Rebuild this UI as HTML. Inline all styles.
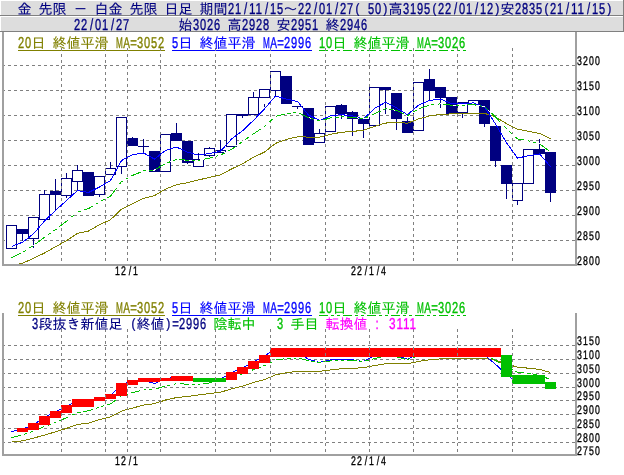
<!DOCTYPE html>
<html lang="ja"><head><meta charset="utf-8"><title>金 先限 - 白金 先限 日足</title>
<style>html,body{margin:0;padding:0;background:#fff;overflow:hidden}svg{display:block}text{white-space:pre}</style>
</head><body>
<svg width="624" height="475" viewBox="0 0 624 475">
<rect x="0" y="0" width="624" height="16" fill="#dddddd"/>
<rect x="0" y="0" width="624" height="1" fill="#ffffff"/>
<rect x="0" y="0" width="1" height="16" fill="#ffffff"/>
<rect x="0" y="15" width="624" height="1" fill="#808080"/>
<rect x="623" y="0" width="1" height="16" fill="#808080"/>
<rect x="0" y="16" width="624" height="16" fill="#dddddd"/>
<rect x="0" y="16" width="624" height="1" fill="#ffffff"/>
<rect x="0" y="16" width="1" height="16" fill="#ffffff"/>
<rect x="0" y="31" width="624" height="1" fill="#808080"/>
<rect x="623" y="16" width="1" height="16" fill="#808080"/>
<g shape-rendering="crispEdges">
<path d="M2 65.5H575" stroke="#808080" stroke-width="1" stroke-dasharray="3 3" fill="none"/>
<path d="M2 90.5H575" stroke="#808080" stroke-width="1" stroke-dasharray="3 3" fill="none"/>
<path d="M2 115.5H575" stroke="#808080" stroke-width="1" stroke-dasharray="3 3" fill="none"/>
<path d="M2 140.5H575" stroke="#808080" stroke-width="1" stroke-dasharray="3 3" fill="none"/>
<path d="M2 165.5H575" stroke="#808080" stroke-width="1" stroke-dasharray="3 3" fill="none"/>
<path d="M2 190.5H575" stroke="#808080" stroke-width="1" stroke-dasharray="3 3" fill="none"/>
<path d="M2 215.5H575" stroke="#808080" stroke-width="1" stroke-dasharray="3 3" fill="none"/>
<path d="M2 240.5H575" stroke="#808080" stroke-width="1" stroke-dasharray="3 3" fill="none"/>
<path d="M2 345.5H575" stroke="#808080" stroke-width="1" stroke-dasharray="3 3" fill="none"/>
<path d="M2 359.5H575" stroke="#808080" stroke-width="1" stroke-dasharray="3 3" fill="none"/>
<path d="M2 373.5H575" stroke="#808080" stroke-width="1" stroke-dasharray="3 3" fill="none"/>
<path d="M2 387.5H575" stroke="#808080" stroke-width="1" stroke-dasharray="3 3" fill="none"/>
<path d="M2 400.5H575" stroke="#808080" stroke-width="1" stroke-dasharray="3 3" fill="none"/>
<path d="M2 414.5H575" stroke="#808080" stroke-width="1" stroke-dasharray="3 3" fill="none"/>
<path d="M2 428.5H575" stroke="#808080" stroke-width="1" stroke-dasharray="3 3" fill="none"/>
<path d="M2 442.5H575" stroke="#808080" stroke-width="1" stroke-dasharray="3 3" fill="none"/>
</g>
<g shape-rendering="crispEdges">
<rect x="6.5" y="225.5" width="10" height="23" fill="#fff" stroke="#000080" stroke-width="1"/>
<rect x="22" y="234" width="1" height="7" fill="#000080"/>
<rect x="17" y="229" width="11" height="5" fill="#000080"/>
<rect x="33" y="239" width="1" height="9" fill="#000080"/>
<rect x="28.5" y="217.5" width="10" height="21" fill="#fff" stroke="#000080" stroke-width="1"/>
<rect x="44" y="190" width="1" height="4" fill="#000080"/>
<rect x="39.5" y="194.5" width="10" height="25" fill="#fff" stroke="#000080" stroke-width="1"/>
<rect x="55" y="179" width="1" height="12" fill="#000080"/>
<rect x="55" y="195" width="1" height="16" fill="#000080"/>
<rect x="50" y="191" width="11" height="4" fill="#000080"/>
<rect x="66" y="173" width="1" height="5" fill="#000080"/>
<rect x="66" y="196" width="1" height="2" fill="#000080"/>
<rect x="61.5" y="178.5" width="10" height="17" fill="#fff" stroke="#000080" stroke-width="1"/>
<rect x="77" y="165" width="1" height="5" fill="#000080"/>
<rect x="77" y="182" width="1" height="9" fill="#000080"/>
<rect x="72.5" y="170.5" width="10" height="11" fill="#fff" stroke="#000080" stroke-width="1"/>
<rect x="83" y="172" width="11" height="24" fill="#000080"/>
<rect x="99" y="195" width="1" height="2" fill="#000080"/>
<rect x="94.5" y="176.5" width="10" height="18" fill="#fff" stroke="#000080" stroke-width="1"/>
<rect x="110" y="162" width="1" height="6" fill="#000080"/>
<rect x="105.5" y="168.5" width="10" height="6" fill="#fff" stroke="#000080" stroke-width="1"/>
<rect x="121" y="167" width="1" height="7" fill="#000080"/>
<rect x="116.5" y="117.5" width="10" height="49" fill="#fff" stroke="#000080" stroke-width="1"/>
<rect x="132" y="137" width="1" height="1" fill="#000080"/>
<rect x="127" y="138" width="11" height="8" fill="#000080"/>
<rect x="143" y="139" width="1" height="7" fill="#000080"/>
<rect x="143" y="147" width="1" height="6" fill="#000080"/>
<rect x="138" y="146" width="11" height="1" fill="#000080"/>
<rect x="149" y="151" width="11" height="21" fill="#000080"/>
<rect x="160.5" y="134.5" width="10" height="37" fill="#fff" stroke="#000080" stroke-width="1"/>
<rect x="176" y="123" width="1" height="10" fill="#000080"/>
<rect x="171" y="133" width="11" height="8" fill="#000080"/>
<rect x="187" y="163" width="1" height="1" fill="#000080"/>
<rect x="182" y="141" width="11" height="22" fill="#000080"/>
<rect x="198" y="153" width="1" height="6" fill="#000080"/>
<rect x="193.5" y="159.5" width="10" height="7" fill="#fff" stroke="#000080" stroke-width="1"/>
<rect x="209" y="147" width="1" height="1" fill="#000080"/>
<rect x="209" y="156" width="1" height="1" fill="#000080"/>
<rect x="204.5" y="148.5" width="10" height="7" fill="#fff" stroke="#000080" stroke-width="1"/>
<rect x="220" y="140" width="1" height="10" fill="#000080"/>
<rect x="215.5" y="150.5" width="10" height="2" fill="#fff" stroke="#000080" stroke-width="1"/>
<rect x="226.5" y="114.5" width="10" height="32" fill="#fff" stroke="#000080" stroke-width="1"/>
<rect x="242" y="116" width="1" height="2" fill="#000080"/>
<rect x="237" y="114" width="11" height="2" fill="#000080"/>
<rect x="253" y="92" width="1" height="5" fill="#000080"/>
<rect x="248.5" y="97.5" width="10" height="17" fill="#fff" stroke="#000080" stroke-width="1"/>
<rect x="259.5" y="89.5" width="10" height="8" fill="#fff" stroke="#000080" stroke-width="1"/>
<rect x="275" y="91" width="1" height="6" fill="#000080"/>
<rect x="270.5" y="71.5" width="10" height="19" fill="#fff" stroke="#000080" stroke-width="1"/>
<rect x="281" y="76" width="11" height="28" fill="#000080"/>
<rect x="297" y="107" width="1" height="2" fill="#000080"/>
<rect x="292" y="106" width="11" height="1" fill="#000080"/>
<rect x="303" y="108" width="11" height="37" fill="#000080"/>
<rect x="319" y="129" width="1" height="4" fill="#000080"/>
<rect x="314.5" y="133.5" width="10" height="9" fill="#fff" stroke="#000080" stroke-width="1"/>
<rect x="325.5" y="106.5" width="10" height="25" fill="#fff" stroke="#000080" stroke-width="1"/>
<rect x="341" y="104" width="1" height="1" fill="#000080"/>
<rect x="341" y="114" width="1" height="5" fill="#000080"/>
<rect x="336" y="105" width="11" height="9" fill="#000080"/>
<rect x="352" y="111" width="1" height="1" fill="#000080"/>
<rect x="352" y="119" width="1" height="17" fill="#000080"/>
<rect x="347" y="112" width="11" height="7" fill="#000080"/>
<rect x="363" y="124" width="1" height="14" fill="#000080"/>
<rect x="358" y="119" width="11" height="5" fill="#000080"/>
<rect x="369.5" y="87.5" width="10" height="38" fill="#fff" stroke="#000080" stroke-width="1"/>
<rect x="385" y="90" width="1" height="24" fill="#000080"/>
<rect x="380" y="87" width="11" height="3" fill="#000080"/>
<rect x="396" y="119" width="1" height="11" fill="#000080"/>
<rect x="391" y="93" width="11" height="26" fill="#000080"/>
<rect x="407" y="117" width="1" height="4" fill="#000080"/>
<rect x="402" y="121" width="11" height="12" fill="#000080"/>
<rect x="413.5" y="82.5" width="10" height="48" fill="#fff" stroke="#000080" stroke-width="1"/>
<rect x="429" y="69" width="1" height="10" fill="#000080"/>
<rect x="429" y="91" width="1" height="9" fill="#000080"/>
<rect x="424" y="79" width="11" height="12" fill="#000080"/>
<rect x="440" y="98" width="1" height="10" fill="#000080"/>
<rect x="435" y="87" width="11" height="11" fill="#000080"/>
<rect x="446" y="97" width="11" height="17" fill="#000080"/>
<rect x="462" y="113" width="1" height="5" fill="#000080"/>
<rect x="457.5" y="102.5" width="10" height="10" fill="#fff" stroke="#000080" stroke-width="1"/>
<rect x="468.5" y="100.5" width="10" height="4" fill="#fff" stroke="#000080" stroke-width="1"/>
<rect x="484" y="124" width="1" height="3" fill="#000080"/>
<rect x="479" y="100" width="11" height="24" fill="#000080"/>
<rect x="495" y="161" width="1" height="6" fill="#000080"/>
<rect x="490" y="126" width="11" height="35" fill="#000080"/>
<rect x="506" y="184" width="1" height="15" fill="#000080"/>
<rect x="501" y="165" width="11" height="19" fill="#000080"/>
<rect x="517" y="201" width="1" height="4" fill="#000080"/>
<rect x="512.5" y="183.5" width="10" height="17" fill="#fff" stroke="#000080" stroke-width="1"/>
<rect x="523.5" y="149.5" width="10" height="34" fill="#fff" stroke="#000080" stroke-width="1"/>
<rect x="539" y="139" width="1" height="10" fill="#000080"/>
<rect x="534" y="149" width="11" height="5" fill="#000080"/>
<rect x="550" y="193" width="1" height="9" fill="#000080"/>
<rect x="545" y="152" width="11" height="41" fill="#000080"/>
<rect x="264" y="104" width="1" height="3" fill="#000080"/>
<path d="M61.5 48V264" stroke="#808080" stroke-width="1" stroke-dasharray="3 3" stroke-dashoffset="0" fill="none"/>
<path d="M105.5 48V264" stroke="#808080" stroke-width="1" stroke-dasharray="3 3" stroke-dashoffset="0" fill="none"/>
<path d="M127.5 48V264" stroke="#808080" stroke-width="1" stroke-dasharray="3 3" stroke-dashoffset="0" fill="none"/>
<path d="M160.5 48V264" stroke="#808080" stroke-width="1" stroke-dasharray="3 3" stroke-dashoffset="0" fill="none"/>
<path d="M215.5 48V264" stroke="#808080" stroke-width="1" stroke-dasharray="3 3" stroke-dashoffset="0" fill="none"/>
<path d="M270.5 48V264" stroke="#808080" stroke-width="1" stroke-dasharray="3 3" stroke-dashoffset="0" fill="none"/>
<path d="M325.5 48V264" stroke="#808080" stroke-width="1" stroke-dasharray="3 3" stroke-dashoffset="0" fill="none"/>
<path d="M369.5 48V264" stroke="#808080" stroke-width="1" stroke-dasharray="3 3" stroke-dashoffset="0" fill="none"/>
<path d="M413.5 48V264" stroke="#808080" stroke-width="1" stroke-dasharray="3 3" stroke-dashoffset="0" fill="none"/>
<path d="M457.5 48V264" stroke="#808080" stroke-width="1" stroke-dasharray="3 3" stroke-dashoffset="0" fill="none"/>
<path d="M512.5 48V264" stroke="#808080" stroke-width="1" stroke-dasharray="3 3" stroke-dashoffset="0" fill="none"/>
</g>
<defs><clipPath id="fc"><rect x="17" y="229" width="11" height="5"/><rect x="50" y="191" width="11" height="4"/><rect x="83" y="172" width="11" height="24"/><rect x="127" y="138" width="11" height="8"/><rect x="149" y="151" width="11" height="21"/><rect x="171" y="133" width="11" height="8"/><rect x="182" y="141" width="11" height="22"/><rect x="237" y="114" width="11" height="2"/><rect x="281" y="76" width="11" height="28"/><rect x="303" y="108" width="11" height="37"/><rect x="336" y="105" width="11" height="9"/><rect x="347" y="112" width="11" height="7"/><rect x="358" y="119" width="11" height="5"/><rect x="380" y="87" width="11" height="3"/><rect x="391" y="93" width="11" height="26"/><rect x="402" y="121" width="11" height="12"/><rect x="424" y="79" width="11" height="12"/><rect x="435" y="87" width="11" height="11"/><rect x="446" y="97" width="11" height="17"/><rect x="479" y="100" width="11" height="24"/><rect x="490" y="126" width="11" height="35"/><rect x="501" y="165" width="11" height="19"/><rect x="534" y="149" width="11" height="5"/><rect x="545" y="152" width="11" height="41"/></clipPath><clipPath id="tc"><rect x="4" y="52" width="571" height="214"/></clipPath></defs>
<g clip-path="url(#tc)" shape-rendering="crispEdges">
<path d="M11.5 265.45 L22.5 263.35 L33.5 258.25 L44.5 253.05 L55.5 246.75 L66.5 240.65 L77.5 233.35 L88.5 231.05 L99.5 224.65 L110.5 219.75 L121.5 209.15 L132.5 203.75 L143.5 198.35 L154.5 195.65 L165.5 189.05 L176.5 184.65 L187.5 182.65 L198.5 179.95 L209.5 177.35 L220.5 174.85 L231.5 168.95 L242.5 163.95 L253.5 157.15 L264.5 152.15 L275.5 143.35 L286.5 139.35 L297.5 136.85 L308.5 137.05 L319.5 137.05 L330.5 134.35 L341.5 132.25 L352.5 131.45 L363.5 130.25 L374.5 126.35 L385.5 123.05 L396.5 122.55 L407.5 123.15 L418.5 118.95 L429.5 115.95 L440.5 114.25 L451.5 113.95 L462.5 113.55 L473.5 113.05 L484.5 113.35 L495.5 116.95 L506.5 123.65 L517.5 129.25 L528.5 131.25 L539.5 133.45 L550.5 138.85" fill="none" stroke="#808000" stroke-width="1"/>
<path d="M11.5 246.45 L22.5 242.25 L33.5 233.85 L44.5 221.05 L55.5 210.35 L66.5 200.55 L77.5 190.55 L88.5 192.45 L99.5 187.05 L110.5 180.55 L121.5 160.55 L132.5 154.65 L143.5 152.95 L154.5 159.05 L165.5 150.45 L176.5 147.05 L187.5 152.15 L198.5 155.15 L209.5 153.45 L220.5 151.25 L231.5 139.05 L242.5 130.85 L253.5 120.35 L264.5 108.85 L275.5 96.05 L286.5 99.15 L297.5 101.45 L308.5 115.05 L319.5 120.55 L330.5 115.95 L341.5 114.65 L352.5 115.95 L363.5 119.15 L374.5 108.35 L385.5 102.35 L396.5 107.85 L407.5 114.75 L418.5 105.15 L429.5 100.45 L440.5 99.15 L451.5 103.45 L462.5 103.45 L473.5 102.95 L484.5 107.05 L495.5 124.05 L506.5 142.65 L517.5 158.15 L528.5 155.65 L539.5 153.95 L550.5 166.55" fill="none" stroke="#0000ff" stroke-width="1"/>
<path d="M11.5 257.55 L22.5 252.35 L33.5 245.65 L44.5 237.25 L55.5 229.65 L66.5 221.25 L77.5 212.05 L88.5 208.65 L99.5 202.05 L110.5 196.15 L121.5 181.55 L132.5 175.45 L143.5 170.95 L154.5 170.05 L165.5 163.55 L176.5 159.35 L187.5 160.25 L198.5 160.25 L209.5 158.05 L220.5 155.05 L231.5 149.35 L242.5 141.65 L253.5 133.85 L264.5 126.55 L275.5 116.45 L286.5 113.65 L297.5 112.55 L308.5 117.55 L319.5 120.85 L330.5 117.95 L341.5 116.85 L352.5 117.15 L363.5 118.85 L374.5 113.75 L385.5 108.65 L396.5 110.45 L407.5 115.65 L418.5 108.85 L429.5 105.15 L440.5 103.85 L451.5 105.15 L462.5 105.15 L473.5 104.65 L484.5 106.55 L495.5 116.95 L506.5 128.75 L517.5 138.85 L528.5 140.85 L539.5 143.85 L550.5 152.05" fill="none" stroke="#ffffff" stroke-width="1"/>
<path d="M11.5 257.55 L12.5 257.08 L13.5 256.60 L14.5 256.13 L15.5 255.66 L16.5 255.19 L17.5 254.71 L18.5 254.24 L19.5 253.77 L20.5 253.30M23.5 251.74 L24.5 251.13 L25.5 250.52 L26.5 249.91M29.5 248.09 L30.5 247.48 L31.5 246.87 L32.5 246.26M35.5 244.12 L36.5 243.36 L37.5 242.60 L38.5 241.83 L39.5 241.07 L40.5 240.30 L41.5 239.54 L42.5 238.78 L43.5 238.01 L44.5 237.25M47.5 235.18 L48.5 234.49 L49.5 233.80 L50.5 233.10M53.5 231.03 L54.5 230.34 L55.5 229.65 L56.5 228.89M59.5 226.60 L60.5 225.83 L61.5 225.07 L62.5 224.30 L63.5 223.54 L64.5 222.78 L65.5 222.01 L66.5 221.25 L67.5 220.41 L68.5 219.58M71.5 217.07 L72.5 216.23 L73.5 215.40 L74.5 214.56M77.5 212.05 L78.5 211.74 L79.5 211.43 L80.5 211.12M83.5 210.20 L84.5 209.89 L85.5 209.58 L86.5 209.27 L87.5 208.96 L88.5 208.65 L89.5 208.05 L90.5 207.45 L91.5 206.85 L92.5 206.25M95.5 204.45 L96.5 203.85 L97.5 203.25 L98.5 202.65M101.5 200.98 L102.5 200.44 L103.5 199.90 L104.5 199.37M107.5 197.76 L108.5 197.22 L109.5 196.69 L110.5 196.15 L111.5 194.82 L112.5 193.50 L113.5 192.17 L114.5 190.84 L115.5 189.51 L116.5 188.19M119.5 184.20 L120.5 182.88 L121.5 181.55 L122.5 181.00M125.5 179.33 L126.5 178.78 L127.5 178.22 L128.5 177.67M131.5 176.00 L132.5 175.45 L133.5 175.04 L134.5 174.63 L135.5 174.22 L136.5 173.81 L137.5 173.40 L138.5 173.00 L139.5 172.59 L140.5 172.18M143.5 170.95 L144.5 170.87 L145.5 170.79 L146.5 170.70M149.5 170.46 L150.5 170.38 L151.5 170.30 L152.5 170.21M155.5 169.46 L156.5 168.87 L157.5 168.28 L158.5 167.69 L159.5 167.10 L160.5 166.50 L161.5 165.91 L162.5 165.32 L163.5 164.73 L164.5 164.14M167.5 162.79 L168.5 162.40 L169.5 162.02 L170.5 161.64M173.5 160.50 L174.5 160.11 L175.5 159.73 L176.5 159.35M179.5 159.60 L180.5 159.68 L181.5 159.76 L182.5 159.84 L183.5 159.92 L184.5 160.00 L185.5 160.09 L186.5 160.17 L187.5 160.25 L188.5 160.25M191.5 160.25 L192.5 160.25 L193.5 160.25 L194.5 160.25M197.5 160.25 L198.5 160.25 L199.5 160.05 L200.5 159.85M203.5 159.25 L204.5 159.05 L205.5 158.85 L206.5 158.65 L207.5 158.45 L208.5 158.25 L209.5 158.05 L210.5 157.78 L211.5 157.50 L212.5 157.23M215.5 156.41 L216.5 156.14 L217.5 155.87 L218.5 155.60M221.5 154.53 L222.5 154.01 L223.5 153.50 L224.5 152.98M227.5 151.42 L228.5 150.90 L229.5 150.39 L230.5 149.87 L231.5 149.35 L232.5 148.65 L233.5 147.95 L234.5 147.25 L235.5 146.55 L236.5 145.85M239.5 143.75 L240.5 143.05 L241.5 142.35 L242.5 141.65M245.5 139.52 L246.5 138.81 L247.5 138.10 L248.5 137.40M251.5 135.27 L252.5 134.56 L253.5 133.85 L254.5 133.19 L255.5 132.52 L256.5 131.86 L257.5 131.20 L258.5 130.53 L259.5 129.87 L260.5 129.20M263.5 127.21 L264.5 126.55 L265.5 125.63 L266.5 124.71M269.5 121.96 L270.5 121.04 L271.5 120.12 L272.5 119.20M275.5 116.45 L276.5 116.20 L277.5 115.94 L278.5 115.69 L279.5 115.43 L280.5 115.18 L281.5 114.92 L282.5 114.67 L283.5 114.41 L284.5 114.16M287.5 113.55 L288.5 113.45 L289.5 113.35 L290.5 113.25M293.5 112.95 L294.5 112.85 L295.5 112.75 L296.5 112.65M299.5 113.46 L300.5 113.91 L301.5 114.37 L302.5 114.82 L303.5 115.28 L304.5 115.73 L305.5 116.19 L306.5 116.64 L307.5 117.10 L308.5 117.55M311.5 118.45 L312.5 118.75 L313.5 119.05 L314.5 119.35M317.5 120.25 L318.5 120.55 L319.5 120.85 L320.5 120.59M323.5 119.80 L324.5 119.53 L325.5 119.27 L326.5 119.00 L327.5 118.74 L328.5 118.48 L329.5 118.21 L330.5 117.95 L331.5 117.85 L332.5 117.75M335.5 117.45 L336.5 117.35 L337.5 117.25 L338.5 117.15M341.5 116.85 L342.5 116.88 L343.5 116.90 L344.5 116.93M347.5 117.01 L348.5 117.04 L349.5 117.07 L350.5 117.10 L351.5 117.12 L352.5 117.15 L353.5 117.30 L354.5 117.46 L355.5 117.61 L356.5 117.77M359.5 118.23 L360.5 118.39 L361.5 118.54 L362.5 118.70M365.5 117.92 L366.5 117.46 L367.5 117.00 L368.5 116.53M371.5 115.14 L372.5 114.68 L373.5 114.21 L374.5 113.75 L375.5 113.29 L376.5 112.82 L377.5 112.36 L378.5 111.90 L379.5 111.43 L380.5 110.97M383.5 109.58 L384.5 109.11 L385.5 108.65 L386.5 108.81M389.5 109.30 L390.5 109.47 L391.5 109.63 L392.5 109.80M395.5 110.29 L396.5 110.45 L397.5 110.92 L398.5 111.40 L399.5 111.87 L400.5 112.34 L401.5 112.81 L402.5 113.29 L403.5 113.76 L404.5 114.23M407.5 115.65 L408.5 115.03 L409.5 114.41 L410.5 113.80M413.5 111.94 L414.5 111.32 L415.5 110.70 L416.5 110.09M419.5 108.51 L420.5 108.18 L421.5 107.84 L422.5 107.50 L423.5 107.17 L424.5 106.83 L425.5 106.50 L426.5 106.16 L427.5 105.82 L428.5 105.49M431.5 104.91 L432.5 104.80 L433.5 104.68 L434.5 104.56M437.5 104.20 L438.5 104.09 L439.5 103.97 L440.5 103.85M443.5 104.20 L444.5 104.32 L445.5 104.44 L446.5 104.56 L447.5 104.68 L448.5 104.80 L449.5 104.91 L450.5 105.03 L451.5 105.15 L452.5 105.15M455.5 105.15 L456.5 105.15 L457.5 105.15 L458.5 105.15M461.5 105.15 L462.5 105.15 L463.5 105.10 L464.5 105.06M467.5 104.92 L468.5 104.88 L469.5 104.83 L470.5 104.79 L471.5 104.74 L472.5 104.70 L473.5 104.65 L474.5 104.82 L475.5 105.00 L476.5 105.17M479.5 105.69 L480.5 105.86 L481.5 106.03 L482.5 106.20M485.5 107.50 L486.5 108.44 L487.5 109.39 L488.5 110.33M491.5 113.17 L492.5 114.11 L493.5 115.06 L494.5 116.00 L495.5 116.95 L496.5 118.02 L497.5 119.10 L498.5 120.17 L499.5 121.24 L500.5 122.31M503.5 125.53 L504.5 126.60 L505.5 127.68 L506.5 128.75M509.5 131.50 L510.5 132.42 L511.5 133.34 L512.5 134.26M515.5 137.01 L516.5 137.93 L517.5 138.85 L518.5 139.03 L519.5 139.21 L520.5 139.40 L521.5 139.58 L522.5 139.76 L523.5 139.94 L524.5 140.12M527.5 140.67 L528.5 140.85 L529.5 141.12 L530.5 141.40M533.5 142.21 L534.5 142.49 L535.5 142.76 L536.5 143.03M539.5 143.85 L540.5 144.60 L541.5 145.34 L542.5 146.09 L543.5 146.83 L544.5 147.58 L545.5 148.32 L546.5 149.07 L547.5 149.81 L548.5 150.56" fill="none" stroke="#00c000" stroke-width="1"/>
</g>
<g shape-rendering="crispEdges">
<path d="M11.5 442.02 L22.5 440.87 L33.5 438.06 L44.5 435.20 L55.5 431.74 L66.5 428.38 L77.5 424.37 L88.5 423.10 L99.5 419.58 L110.5 416.89 L121.5 411.06 L132.5 408.08 L143.5 405.12 L154.5 403.63 L165.5 400.00 L176.5 397.58 L187.5 396.48 L198.5 395.00 L209.5 393.56 L220.5 392.19 L231.5 388.94 L242.5 386.19 L253.5 382.45 L264.5 379.70 L275.5 374.87 L286.5 372.67 L297.5 371.29 L308.5 371.40 L319.5 371.40 L330.5 369.92 L341.5 368.76 L352.5 368.32 L363.5 367.66 L374.5 365.52 L385.5 363.70 L396.5 363.43 L407.5 363.75 L418.5 361.44 L429.5 359.80 L440.5 358.86 L451.5 358.69 L462.5 358.48 L473.5 358.20 L484.5 358.37 L495.5 360.35 L506.5 364.03 L517.5 367.11 L528.5 368.21 L539.5 369.42 L550.5 372.39" fill="none" stroke="#808000" stroke-width="1"/>
<path d="M11.5 431.57 L22.5 429.26 L33.5 424.64 L44.5 417.60 L55.5 411.72 L66.5 406.32 L77.5 400.82 L88.5 401.87 L99.5 398.90 L110.5 395.32 L121.5 384.32 L132.5 381.08 L143.5 380.15 L154.5 383.50 L165.5 378.77 L176.5 376.90 L187.5 379.70 L198.5 381.36 L209.5 380.42 L220.5 379.21 L231.5 372.50 L242.5 367.99 L253.5 362.22 L264.5 355.89 L275.5 348.85 L286.5 350.56 L297.5 351.82 L308.5 359.30 L319.5 362.32 L330.5 359.80 L341.5 359.08 L352.5 359.80 L363.5 361.56 L374.5 355.62 L385.5 352.31 L396.5 355.34 L407.5 359.14 L418.5 353.86 L429.5 351.27 L440.5 350.56 L451.5 352.92 L462.5 352.92 L473.5 352.65 L484.5 354.90 L495.5 364.25 L506.5 374.48 L517.5 383.00 L528.5 381.63 L539.5 380.69 L550.5 387.62" fill="none" stroke="#0000ff" stroke-width="1"/>
<path d="M11.5 437.68 L22.5 434.81 L33.5 431.13 L44.5 426.51 L55.5 422.33 L66.5 417.71 L77.5 412.65 L88.5 410.78 L99.5 407.15 L110.5 403.91 L121.5 395.88 L132.5 392.52 L143.5 390.05 L154.5 389.55 L165.5 385.98 L176.5 383.67 L187.5 384.16 L198.5 384.16 L209.5 382.95 L220.5 381.30 L231.5 378.17 L242.5 373.93 L253.5 369.64 L264.5 365.62 L275.5 360.07 L286.5 358.53 L297.5 357.93 L308.5 360.68 L319.5 362.49 L330.5 360.90 L341.5 360.29 L352.5 360.45 L363.5 361.39 L374.5 358.59 L385.5 355.78 L396.5 356.77 L407.5 359.63 L418.5 355.89 L429.5 353.86 L440.5 353.14 L451.5 353.86 L462.5 353.86 L473.5 353.58 L484.5 354.62 L495.5 360.35 L506.5 366.83 L517.5 372.39 L528.5 373.49 L539.5 375.14 L550.5 379.65" fill="none" stroke="#ffffff" stroke-width="1"/>
<path d="M11.5 437.68 L12.5 437.42 L13.5 437.16 L14.5 436.89 L15.5 436.63 L16.5 436.38 L17.5 436.12 L18.5 435.86 L19.5 435.60 L20.5 435.33M23.5 434.48 L24.5 434.14 L25.5 433.81 L26.5 433.48M29.5 432.47 L30.5 432.14 L31.5 431.80 L32.5 431.47M35.5 430.29 L36.5 429.87 L37.5 429.45 L38.5 429.03 L39.5 428.61 L40.5 428.19 L41.5 427.77 L42.5 427.35 L43.5 426.93 L44.5 426.51M47.5 425.37 L48.5 424.99 L49.5 424.61 L50.5 424.23M53.5 423.09 L54.5 422.71 L55.5 422.33 L56.5 421.91M59.5 420.65 L60.5 420.23 L61.5 419.81 L62.5 419.39 L63.5 418.97 L64.5 418.55 L65.5 418.13 L66.5 417.71 L67.5 417.25 L68.5 416.79M71.5 415.41 L72.5 414.95 L73.5 414.49 L74.5 414.03M77.5 412.65 L78.5 412.48 L79.5 412.31 L80.5 412.14M83.5 411.63 L84.5 411.46 L85.5 411.29 L86.5 411.12 L87.5 410.95 L88.5 410.78 L89.5 410.45 L90.5 410.12 L91.5 409.79 L92.5 409.46M95.5 408.47 L96.5 408.14 L97.5 407.81 L98.5 407.48M101.5 406.56 L102.5 406.27 L103.5 405.97 L104.5 405.68M107.5 404.79 L108.5 404.50 L109.5 404.20 L110.5 403.91 L111.5 403.18 L112.5 402.45 L113.5 401.72 L114.5 400.99 L115.5 400.25 L116.5 399.53M119.5 397.33 L120.5 396.61 L121.5 395.88 L122.5 395.57M125.5 394.66 L126.5 394.35 L127.5 394.05 L128.5 393.74M131.5 392.83 L132.5 392.52 L133.5 392.30 L134.5 392.07 L135.5 391.85 L136.5 391.62 L137.5 391.40 L138.5 391.17 L139.5 390.95 L140.5 390.72M143.5 390.05 L144.5 390.00 L145.5 389.96 L146.5 389.91M149.5 389.78 L150.5 389.73 L151.5 389.69 L152.5 389.64M155.5 389.23 L156.5 388.90 L157.5 388.57 L158.5 388.25 L159.5 387.93 L160.5 387.60 L161.5 387.28 L162.5 386.95 L163.5 386.62 L164.5 386.30M167.5 385.56 L168.5 385.35 L169.5 385.14 L170.5 384.93M173.5 384.30 L174.5 384.09 L175.5 383.88 L176.5 383.67M179.5 383.80 L180.5 383.85 L181.5 383.89 L182.5 383.94 L183.5 383.98 L184.5 384.03 L185.5 384.07 L186.5 384.12 L187.5 384.16 L188.5 384.16M191.5 384.16 L192.5 384.16 L193.5 384.16 L194.5 384.16M197.5 384.16 L198.5 384.16 L199.5 384.05 L200.5 383.94M203.5 383.61 L204.5 383.50 L205.5 383.39 L206.5 383.28 L207.5 383.17 L208.5 383.06 L209.5 382.95 L210.5 382.80 L211.5 382.65 L212.5 382.50M215.5 382.05 L216.5 381.90 L217.5 381.75 L218.5 381.60M221.5 381.01 L222.5 380.73 L223.5 380.44 L224.5 380.16M227.5 379.31 L228.5 379.02 L229.5 378.74 L230.5 378.45 L231.5 378.17 L232.5 377.78 L233.5 377.40 L234.5 377.01 L235.5 376.62 L236.5 376.24M239.5 375.09 L240.5 374.70 L241.5 374.31 L242.5 373.93M245.5 372.76 L246.5 372.37 L247.5 371.98 L248.5 371.59M251.5 370.42 L252.5 370.03 L253.5 369.64 L254.5 369.28 L255.5 368.91 L256.5 368.55 L257.5 368.18 L258.5 367.81 L259.5 367.45 L260.5 367.09M263.5 365.99 L264.5 365.62 L265.5 365.12 L266.5 364.62M269.5 363.10 L270.5 362.59 L271.5 362.09 L272.5 361.58M275.5 360.07 L276.5 359.93 L277.5 359.79 L278.5 359.65 L279.5 359.51 L280.5 359.37 L281.5 359.23 L282.5 359.09 L283.5 358.95 L284.5 358.81M287.5 358.48 L288.5 358.42 L289.5 358.37 L290.5 358.31M293.5 358.15 L294.5 358.09 L295.5 358.04 L296.5 357.98M299.5 358.43 L300.5 358.68 L301.5 358.93 L302.5 359.18 L303.5 359.43 L304.5 359.68 L305.5 359.93 L306.5 360.18 L307.5 360.43 L308.5 360.68M311.5 361.17 L312.5 361.34 L313.5 361.50 L314.5 361.67M317.5 362.16 L318.5 362.32 L319.5 362.49 L320.5 362.35M323.5 361.91 L324.5 361.77 L325.5 361.62 L326.5 361.48 L327.5 361.33 L328.5 361.19 L329.5 361.04 L330.5 360.90 L331.5 360.84 L332.5 360.79M335.5 360.62 L336.5 360.57 L337.5 360.51 L338.5 360.46M341.5 360.29 L342.5 360.31 L343.5 360.32 L344.5 360.34M347.5 360.38 L348.5 360.39 L349.5 360.41 L350.5 360.43 L351.5 360.44 L352.5 360.45 L353.5 360.54 L354.5 360.62 L355.5 360.71 L356.5 360.80M359.5 361.05 L360.5 361.14 L361.5 361.22 L362.5 361.31M365.5 360.88 L366.5 360.63 L367.5 360.37 L368.5 360.12M371.5 359.35 L372.5 359.10 L373.5 358.84 L374.5 358.59 L375.5 358.33 L376.5 358.08 L377.5 357.82 L378.5 357.57 L379.5 357.31 L380.5 357.06M383.5 356.29 L384.5 356.04 L385.5 355.78 L386.5 355.87M389.5 356.14 L390.5 356.23 L391.5 356.32 L392.5 356.41M395.5 356.68 L396.5 356.77 L397.5 357.03 L398.5 357.29 L399.5 357.55 L400.5 357.81 L401.5 358.07 L402.5 358.33 L403.5 358.59 L404.5 358.85M407.5 359.63 L408.5 359.29 L409.5 358.95 L410.5 358.61M413.5 357.59 L414.5 357.25 L415.5 356.91 L416.5 356.57M419.5 355.71 L420.5 355.52 L421.5 355.34 L422.5 355.15 L423.5 354.97 L424.5 354.78 L425.5 354.60 L426.5 354.41 L427.5 354.23 L428.5 354.04M431.5 353.73 L432.5 353.66 L433.5 353.60 L434.5 353.53M437.5 353.34 L438.5 353.27 L439.5 353.21 L440.5 353.14M443.5 353.34 L444.5 353.40 L445.5 353.47 L446.5 353.53 L447.5 353.60 L448.5 353.66 L449.5 353.73 L450.5 353.79 L451.5 353.86 L452.5 353.86M455.5 353.86 L456.5 353.86 L457.5 353.86 L458.5 353.86M461.5 353.86 L462.5 353.86 L463.5 353.83 L464.5 353.81M467.5 353.73 L468.5 353.70 L469.5 353.68 L470.5 353.65 L471.5 353.63 L472.5 353.60 L473.5 353.58 L474.5 353.68 L475.5 353.77 L476.5 353.87M479.5 354.15 L480.5 354.25 L481.5 354.34 L482.5 354.44M485.5 355.14 L486.5 355.67 L487.5 356.19 L488.5 356.70M491.5 358.27 L492.5 358.79 L493.5 359.31 L494.5 359.83 L495.5 360.35 L496.5 360.94 L497.5 361.53 L498.5 362.12 L499.5 362.70 L500.5 363.30M503.5 365.06 L504.5 365.65 L505.5 366.25 L506.5 366.83M509.5 368.35 L510.5 368.86 L511.5 369.36 L512.5 369.87M515.5 371.38 L516.5 371.89 L517.5 372.39 L518.5 372.49 L519.5 372.59 L520.5 372.69 L521.5 372.79 L522.5 372.89 L523.5 372.99 L524.5 373.09M527.5 373.39 L528.5 373.49 L529.5 373.64 L530.5 373.79M533.5 374.24 L534.5 374.39 L535.5 374.54 L536.5 374.69M539.5 375.14 L540.5 375.55 L541.5 375.96 L542.5 376.37 L543.5 376.78 L544.5 377.19 L545.5 377.60 L546.5 378.01 L547.5 378.42 L548.5 378.83" fill="none" stroke="#00c000" stroke-width="1"/>
</g>
<g shape-rendering="crispEdges">
<rect x="17" y="428" width="11" height="4" fill="#ff0000"/>
<rect x="28" y="423" width="11" height="7" fill="#ff0000"/>
<rect x="39" y="416" width="11" height="9" fill="#ff0000"/>
<rect x="50" y="411" width="11" height="7" fill="#ff0000"/>
<rect x="61" y="405" width="11" height="8" fill="#ff0000"/>
<rect x="72" y="399" width="22" height="8" fill="#ff0000"/>
<rect x="94" y="397" width="11" height="4" fill="#ff0000"/>
<rect x="105" y="394" width="11" height="5" fill="#ff0000"/>
<rect x="116" y="383" width="11" height="13" fill="#ff0000"/>
<rect x="127" y="380" width="11" height="5" fill="#ff0000"/>
<rect x="138" y="378" width="22" height="4" fill="#ff0000"/>
<rect x="160" y="378" width="11" height="3" fill="#ff0000"/>
<rect x="171" y="376" width="22" height="5" fill="#ff0000"/>
<rect x="193" y="378" width="33" height="4" fill="#00c000"/>
<rect x="226" y="372" width="11" height="8" fill="#ff0000"/>
<rect x="237" y="367" width="11" height="7" fill="#ff0000"/>
<rect x="248" y="361" width="11" height="8" fill="#ff0000"/>
<rect x="259" y="355" width="11" height="8" fill="#ff0000"/>
<rect x="270" y="348" width="231" height="9" fill="#ff0000"/>
<rect x="501" y="355" width="11" height="22" fill="#00c000"/>
<rect x="512" y="375" width="33" height="9" fill="#00c000"/>
<rect x="545" y="382" width="11" height="7" fill="#00c000"/>
<path d="M61.5 329V454" stroke="#808080" stroke-width="1" stroke-dasharray="3 3" stroke-dashoffset="0" fill="none"/>
<path d="M105.5 329V454" stroke="#808080" stroke-width="1" stroke-dasharray="3 3" stroke-dashoffset="0" fill="none"/>
<path d="M127.5 329V454" stroke="#808080" stroke-width="1" stroke-dasharray="3 3" stroke-dashoffset="0" fill="none"/>
<path d="M160.5 329V454" stroke="#808080" stroke-width="1" stroke-dasharray="3 3" stroke-dashoffset="0" fill="none"/>
<path d="M215.5 329V454" stroke="#808080" stroke-width="1" stroke-dasharray="3 3" stroke-dashoffset="0" fill="none"/>
<path d="M270.5 329V454" stroke="#808080" stroke-width="1" stroke-dasharray="3 3" stroke-dashoffset="0" fill="none"/>
<path d="M325.5 329V454" stroke="#808080" stroke-width="1" stroke-dasharray="3 3" stroke-dashoffset="0" fill="none"/>
<path d="M369.5 329V454" stroke="#808080" stroke-width="1" stroke-dasharray="3 3" stroke-dashoffset="0" fill="none"/>
<path d="M413.5 329V454" stroke="#808080" stroke-width="1" stroke-dasharray="3 3" stroke-dashoffset="0" fill="none"/>
<path d="M457.5 329V454" stroke="#808080" stroke-width="1" stroke-dasharray="3 3" stroke-dashoffset="0" fill="none"/>
<path d="M512.5 329V454" stroke="#808080" stroke-width="1" stroke-dasharray="3 3" stroke-dashoffset="0" fill="none"/>
</g>
<g shape-rendering="crispEdges">
<rect x="2" y="32" width="2" height="234" fill="#a0a0a0"/>
<rect x="2" y="264" width="575" height="2" fill="#a0a0a0"/>
<rect x="575" y="32" width="2" height="234" fill="#a0a0a0"/>
<rect x="2" y="313" width="2" height="143" fill="#a0a0a0"/>
<rect x="2" y="454" width="575" height="2" fill="#a0a0a0"/>
<rect x="575" y="313" width="2" height="143" fill="#a0a0a0"/>
</g>
<g font-family='"Liberation Sans","IPAGothic",sans-serif' text-rendering="geometricPrecision">
<text font-size="14" fill="#000080" stroke="#000080" stroke-width="0.1"><tspan y="14" x="17.5">金</tspan> <tspan y="14" x="38.5 52.5">先限</tspan> <tspan y="14" x="73.5">－</tspan> <tspan y="14" x="94.5 108.5">白金</tspan> <tspan y="14" x="129.5 143.5">先限</tspan> <tspan y="14" x="164.5 178.5">日足</tspan> <tspan y="14" x="199.5 213.5">期間</tspan><tspan y="14" x="228" textLength="14" letter-spacing="1.21" lengthAdjust="spacingAndGlyphs" font-size="15.8" stroke-width="0.35">21</tspan><tspan y="14" x="243.92" textLength="3.16" lengthAdjust="spacingAndGlyphs" font-size="15.8" stroke-width="0.35">/</tspan><tspan y="14" x="249" textLength="14" letter-spacing="1.21" lengthAdjust="spacingAndGlyphs" font-size="15.8" stroke-width="0.35">11</tspan><tspan y="14" x="264.92" textLength="3.16" lengthAdjust="spacingAndGlyphs" font-size="15.8" stroke-width="0.35">/</tspan><tspan y="14" x="270" textLength="14" letter-spacing="1.21" lengthAdjust="spacingAndGlyphs" font-size="15.8" stroke-width="0.35">15</tspan><tspan y="14" x="283.5">～</tspan><tspan y="14" x="298" textLength="14" letter-spacing="1.21" lengthAdjust="spacingAndGlyphs" font-size="15.8" stroke-width="0.35">22</tspan><tspan y="14" x="313.92" textLength="3.16" lengthAdjust="spacingAndGlyphs" font-size="15.8" stroke-width="0.35">/</tspan><tspan y="14" x="319" textLength="14" letter-spacing="1.21" lengthAdjust="spacingAndGlyphs" font-size="15.8" stroke-width="0.35">01</tspan><tspan y="14" x="334.92" textLength="3.16" lengthAdjust="spacingAndGlyphs" font-size="15.8" stroke-width="0.35">/</tspan><tspan y="14" x="340" textLength="14" letter-spacing="1.21" lengthAdjust="spacingAndGlyphs" font-size="15.8" stroke-width="0.35">27</tspan><tspan y="13" x="355.62" textLength="3.76" lengthAdjust="spacingAndGlyphs" font-size="13.3" stroke-width="0.35">(</tspan> <tspan y="14" x="368" textLength="14" letter-spacing="1.21" lengthAdjust="spacingAndGlyphs" font-size="15.8" stroke-width="0.35">50</tspan><tspan y="13" x="383.62" textLength="3.76" lengthAdjust="spacingAndGlyphs" font-size="13.3" stroke-width="0.35">)</tspan><tspan y="14" x="388.5">高</tspan><tspan y="14" x="403" textLength="28" letter-spacing="1.21" lengthAdjust="spacingAndGlyphs" font-size="15.8" stroke-width="0.35">3195</tspan><tspan y="13" x="432.62" textLength="3.76" lengthAdjust="spacingAndGlyphs" font-size="13.3" stroke-width="0.35">(</tspan><tspan y="14" x="438" textLength="14" letter-spacing="1.21" lengthAdjust="spacingAndGlyphs" font-size="15.8" stroke-width="0.35">22</tspan><tspan y="14" x="453.92" textLength="3.16" lengthAdjust="spacingAndGlyphs" font-size="15.8" stroke-width="0.35">/</tspan><tspan y="14" x="459" textLength="14" letter-spacing="1.21" lengthAdjust="spacingAndGlyphs" font-size="15.8" stroke-width="0.35">01</tspan><tspan y="14" x="474.92" textLength="3.16" lengthAdjust="spacingAndGlyphs" font-size="15.8" stroke-width="0.35">/</tspan><tspan y="14" x="480" textLength="14" letter-spacing="1.21" lengthAdjust="spacingAndGlyphs" font-size="15.8" stroke-width="0.35">12</tspan><tspan y="13" x="495.62" textLength="3.76" lengthAdjust="spacingAndGlyphs" font-size="13.3" stroke-width="0.35">)</tspan><tspan y="14" x="500.5">安</tspan><tspan y="14" x="515" textLength="28" letter-spacing="1.21" lengthAdjust="spacingAndGlyphs" font-size="15.8" stroke-width="0.35">2835</tspan><tspan y="13" x="544.62" textLength="3.76" lengthAdjust="spacingAndGlyphs" font-size="13.3" stroke-width="0.35">(</tspan><tspan y="14" x="550" textLength="14" letter-spacing="1.21" lengthAdjust="spacingAndGlyphs" font-size="15.8" stroke-width="0.35">21</tspan><tspan y="14" x="565.92" textLength="3.16" lengthAdjust="spacingAndGlyphs" font-size="15.8" stroke-width="0.35">/</tspan><tspan y="14" x="571" textLength="14" letter-spacing="1.21" lengthAdjust="spacingAndGlyphs" font-size="15.8" stroke-width="0.35">11</tspan><tspan y="14" x="586.92" textLength="3.16" lengthAdjust="spacingAndGlyphs" font-size="15.8" stroke-width="0.35">/</tspan><tspan y="14" x="592" textLength="14" letter-spacing="1.21" lengthAdjust="spacingAndGlyphs" font-size="15.8" stroke-width="0.35">15</tspan><tspan y="13" x="607.62" textLength="3.76" lengthAdjust="spacingAndGlyphs" font-size="13.3" stroke-width="0.35">)</tspan></text>
<text font-size="14" fill="#000080" stroke="#000080" stroke-width="0.1"><tspan y="30" x="74" textLength="14" letter-spacing="1.21" lengthAdjust="spacingAndGlyphs" font-size="15.8" stroke-width="0.35">22</tspan><tspan y="30" x="89.92" textLength="3.16" lengthAdjust="spacingAndGlyphs" font-size="15.8" stroke-width="0.35">/</tspan><tspan y="30" x="95" textLength="14" letter-spacing="1.21" lengthAdjust="spacingAndGlyphs" font-size="15.8" stroke-width="0.35">01</tspan><tspan y="30" x="110.92" textLength="3.16" lengthAdjust="spacingAndGlyphs" font-size="15.8" stroke-width="0.35">/</tspan><tspan y="30" x="116" textLength="14" letter-spacing="1.21" lengthAdjust="spacingAndGlyphs" font-size="15.8" stroke-width="0.35">27</tspan></text>
<text font-size="14" fill="#000080" stroke="#000080" stroke-width="0.1"><tspan y="30" x="178.5">始</tspan><tspan y="30" x="193" textLength="28" letter-spacing="1.21" lengthAdjust="spacingAndGlyphs" font-size="15.8" stroke-width="0.35">3026</tspan> <tspan y="30" x="227.5">高</tspan><tspan y="30" x="242" textLength="28" letter-spacing="1.21" lengthAdjust="spacingAndGlyphs" font-size="15.8" stroke-width="0.35">2928</tspan> <tspan y="30" x="276.5">安</tspan><tspan y="30" x="291" textLength="28" letter-spacing="1.21" lengthAdjust="spacingAndGlyphs" font-size="15.8" stroke-width="0.35">2951</tspan> <tspan y="30" x="325.5">終</tspan><tspan y="30" x="340" textLength="28" letter-spacing="1.21" lengthAdjust="spacingAndGlyphs" font-size="15.8" stroke-width="0.35">2946</tspan></text>
<text font-size="14" fill="#808000" stroke="#808000" stroke-width="0.1"><tspan y="48" x="18" textLength="14" letter-spacing="1.21" lengthAdjust="spacingAndGlyphs" font-size="15.8" stroke-width="0.35">20</tspan><tspan y="48" x="31.5">日</tspan> <tspan y="48" x="52.5 66.5 80.5 94.5">終値平滑</tspan> <tspan y="48" x="116.08" textLength="6.84" lengthAdjust="spacingAndGlyphs" font-size="15.8" stroke-width="0.35">M</tspan><tspan y="48" x="123.13" textLength="6.74" lengthAdjust="spacingAndGlyphs" font-size="15.8" stroke-width="0.35">A</tspan><tspan y="48" x="130.18" textLength="6.64" lengthAdjust="spacingAndGlyphs" font-size="15.8" stroke-width="0.35">=</tspan><tspan y="48" x="137" textLength="28" letter-spacing="1.21" lengthAdjust="spacingAndGlyphs" font-size="15.8" stroke-width="0.35">3052</tspan></text>
<rect x="18" y="50" width="147" height="1" fill="#808000" shape-rendering="crispEdges"/>
<text font-size="14" fill="#0000ff" stroke="#0000ff" stroke-width="0.1"><tspan y="48" x="172" textLength="7" letter-spacing="1.21" lengthAdjust="spacingAndGlyphs" font-size="15.8" stroke-width="0.35">5</tspan><tspan y="48" x="178.5">日</tspan> <tspan y="48" x="199.5 213.5 227.5 241.5">終値平滑</tspan> <tspan y="48" x="263.08" textLength="6.84" lengthAdjust="spacingAndGlyphs" font-size="15.8" stroke-width="0.35">M</tspan><tspan y="48" x="270.13" textLength="6.74" lengthAdjust="spacingAndGlyphs" font-size="15.8" stroke-width="0.35">A</tspan><tspan y="48" x="277.18" textLength="6.64" lengthAdjust="spacingAndGlyphs" font-size="15.8" stroke-width="0.35">=</tspan><tspan y="48" x="284" textLength="28" letter-spacing="1.21" lengthAdjust="spacingAndGlyphs" font-size="15.8" stroke-width="0.35">2996</tspan></text>
<rect x="172" y="50" width="140" height="1" fill="#0000ff" shape-rendering="crispEdges"/>
<text font-size="14" fill="#00c000" stroke="#00c000" stroke-width="0.1"><tspan y="48" x="319" textLength="14" letter-spacing="1.21" lengthAdjust="spacingAndGlyphs" font-size="15.8" stroke-width="0.35">10</tspan><tspan y="48" x="332.5">日</tspan> <tspan y="48" x="353.5 367.5 381.5 395.5">終値平滑</tspan> <tspan y="48" x="417.08" textLength="6.84" lengthAdjust="spacingAndGlyphs" font-size="15.8" stroke-width="0.35">M</tspan><tspan y="48" x="424.13" textLength="6.74" lengthAdjust="spacingAndGlyphs" font-size="15.8" stroke-width="0.35">A</tspan><tspan y="48" x="431.18" textLength="6.64" lengthAdjust="spacingAndGlyphs" font-size="15.8" stroke-width="0.35">=</tspan><tspan y="48" x="438" textLength="28" letter-spacing="1.21" lengthAdjust="spacingAndGlyphs" font-size="15.8" stroke-width="0.35">3026</tspan></text>
<path d="M319 50.5H466" stroke="#00c000" stroke-width="1" stroke-dasharray="9 3 3 3 3 3" shape-rendering="crispEdges"/>
<text font-size="14" fill="#808000" stroke="#808000" stroke-width="0.1"><tspan y="313" x="18" textLength="14" letter-spacing="1.21" lengthAdjust="spacingAndGlyphs" font-size="15.8" stroke-width="0.35">20</tspan><tspan y="313" x="31.5">日</tspan> <tspan y="313" x="52.5 66.5 80.5 94.5">終値平滑</tspan> <tspan y="313" x="116.08" textLength="6.84" lengthAdjust="spacingAndGlyphs" font-size="15.8" stroke-width="0.35">M</tspan><tspan y="313" x="123.13" textLength="6.74" lengthAdjust="spacingAndGlyphs" font-size="15.8" stroke-width="0.35">A</tspan><tspan y="313" x="130.18" textLength="6.64" lengthAdjust="spacingAndGlyphs" font-size="15.8" stroke-width="0.35">=</tspan><tspan y="313" x="137" textLength="28" letter-spacing="1.21" lengthAdjust="spacingAndGlyphs" font-size="15.8" stroke-width="0.35">3052</tspan></text>
<rect x="18" y="315" width="147" height="1" fill="#808000" shape-rendering="crispEdges"/>
<text font-size="14" fill="#0000ff" stroke="#0000ff" stroke-width="0.1"><tspan y="313" x="172" textLength="7" letter-spacing="1.21" lengthAdjust="spacingAndGlyphs" font-size="15.8" stroke-width="0.35">5</tspan><tspan y="313" x="178.5">日</tspan> <tspan y="313" x="199.5 213.5 227.5 241.5">終値平滑</tspan> <tspan y="313" x="263.08" textLength="6.84" lengthAdjust="spacingAndGlyphs" font-size="15.8" stroke-width="0.35">M</tspan><tspan y="313" x="270.13" textLength="6.74" lengthAdjust="spacingAndGlyphs" font-size="15.8" stroke-width="0.35">A</tspan><tspan y="313" x="277.18" textLength="6.64" lengthAdjust="spacingAndGlyphs" font-size="15.8" stroke-width="0.35">=</tspan><tspan y="313" x="284" textLength="28" letter-spacing="1.21" lengthAdjust="spacingAndGlyphs" font-size="15.8" stroke-width="0.35">2996</tspan></text>
<rect x="172" y="315" width="140" height="1" fill="#0000ff" shape-rendering="crispEdges"/>
<text font-size="14" fill="#00c000" stroke="#00c000" stroke-width="0.1"><tspan y="313" x="319" textLength="14" letter-spacing="1.21" lengthAdjust="spacingAndGlyphs" font-size="15.8" stroke-width="0.35">10</tspan><tspan y="313" x="332.5">日</tspan> <tspan y="313" x="353.5 367.5 381.5 395.5">終値平滑</tspan> <tspan y="313" x="417.08" textLength="6.84" lengthAdjust="spacingAndGlyphs" font-size="15.8" stroke-width="0.35">M</tspan><tspan y="313" x="424.13" textLength="6.74" lengthAdjust="spacingAndGlyphs" font-size="15.8" stroke-width="0.35">A</tspan><tspan y="313" x="431.18" textLength="6.64" lengthAdjust="spacingAndGlyphs" font-size="15.8" stroke-width="0.35">=</tspan><tspan y="313" x="438" textLength="28" letter-spacing="1.21" lengthAdjust="spacingAndGlyphs" font-size="15.8" stroke-width="0.35">3026</tspan></text>
<path d="M319 315.5H466" stroke="#00c000" stroke-width="1" stroke-dasharray="9 3 3 3 3 3" shape-rendering="crispEdges"/>
<g shape-rendering="crispEdges">
<rect x="61" y="50" width="1" height="1" fill="#8c8c6c"/>
<rect x="105" y="50" width="1" height="1" fill="#8c8c6c"/>
<rect x="127" y="50" width="1" height="1" fill="#8c8c6c"/>
<rect x="160" y="50" width="1" height="1" fill="#8c8c6c"/>
<rect x="215" y="50" width="1" height="1" fill="#7070c0"/>
<rect x="270" y="50" width="1" height="1" fill="#7070c0"/>
<rect x="325" y="50" width="1" height="1" fill="#808080"/>
<rect x="369" y="50" width="1" height="1" fill="#808080"/>
<rect x="413" y="50" width="1" height="1" fill="#808080"/>
<rect x="457" y="50" width="1" height="1" fill="#808080"/>
</g>
<text font-size="14" fill="#000080" stroke="#000080" stroke-width="0.1"><tspan y="329" x="32" textLength="7" letter-spacing="1.21" lengthAdjust="spacingAndGlyphs" font-size="15.8" stroke-width="0.35">3</tspan><tspan y="329" x="38.5 52.5 66.5 80.5 94.5 108.5">段抜き新値足</tspan> <tspan y="328" x="131.62" textLength="3.76" lengthAdjust="spacingAndGlyphs" font-size="13.3" stroke-width="0.35">(</tspan><tspan y="329" x="136.5 150.5">終値</tspan><tspan y="328" x="166.62" textLength="3.76" lengthAdjust="spacingAndGlyphs" font-size="13.3" stroke-width="0.35">)</tspan><tspan y="329" x="172.18" textLength="6.64" lengthAdjust="spacingAndGlyphs" font-size="15.8" stroke-width="0.35">=</tspan><tspan y="329" x="179" textLength="28" letter-spacing="1.21" lengthAdjust="spacingAndGlyphs" font-size="15.8" stroke-width="0.35">2996</tspan></text>
<text font-size="14" fill="#00c000" stroke="#00c000" stroke-width="0.1"><tspan y="329" x="213.5 227.5 241.5">陰転中</tspan></text>
<text font-size="14" fill="#00c000" stroke="#00c000" stroke-width="0.1"><tspan y="329" x="277" textLength="7" letter-spacing="1.21" lengthAdjust="spacingAndGlyphs" font-size="15.8" stroke-width="0.35">3</tspan> <tspan y="329" x="290.5 304.5">手目</tspan></text>
<text font-size="14" fill="#ff00ff" stroke="#ff00ff" stroke-width="0.1"><tspan y="329" x="325.5 339.5 353.5">転換値</tspan> <tspan y="329" x="375.42" textLength="3.16" lengthAdjust="spacingAndGlyphs" font-size="15.8" stroke-width="0.35">:</tspan> <tspan y="329" x="389" textLength="28" letter-spacing="1.21" lengthAdjust="spacingAndGlyphs" font-size="15.8" stroke-width="0.35">3111</tspan></text>
<text font-size="12" fill="#000" stroke="#000" stroke-width="0.1"><tspan y="65" x="577" textLength="24" letter-spacing="1.62" lengthAdjust="spacingAndGlyphs" font-size="12.5" stroke-width="0.35">3200</tspan></text>
<text font-size="12" fill="#000" stroke="#000" stroke-width="0.1"><tspan y="90" x="577" textLength="24" letter-spacing="1.62" lengthAdjust="spacingAndGlyphs" font-size="12.5" stroke-width="0.35">3150</tspan></text>
<text font-size="12" fill="#000" stroke="#000" stroke-width="0.1"><tspan y="115" x="577" textLength="24" letter-spacing="1.62" lengthAdjust="spacingAndGlyphs" font-size="12.5" stroke-width="0.35">3100</tspan></text>
<text font-size="12" fill="#000" stroke="#000" stroke-width="0.1"><tspan y="140" x="577" textLength="24" letter-spacing="1.62" lengthAdjust="spacingAndGlyphs" font-size="12.5" stroke-width="0.35">3050</tspan></text>
<text font-size="12" fill="#000" stroke="#000" stroke-width="0.1"><tspan y="165" x="577" textLength="24" letter-spacing="1.62" lengthAdjust="spacingAndGlyphs" font-size="12.5" stroke-width="0.35">3000</tspan></text>
<text font-size="12" fill="#000" stroke="#000" stroke-width="0.1"><tspan y="190" x="577" textLength="24" letter-spacing="1.62" lengthAdjust="spacingAndGlyphs" font-size="12.5" stroke-width="0.35">2950</tspan></text>
<text font-size="12" fill="#000" stroke="#000" stroke-width="0.1"><tspan y="215" x="577" textLength="24" letter-spacing="1.62" lengthAdjust="spacingAndGlyphs" font-size="12.5" stroke-width="0.35">2900</tspan></text>
<text font-size="12" fill="#000" stroke="#000" stroke-width="0.1"><tspan y="240" x="577" textLength="24" letter-spacing="1.62" lengthAdjust="spacingAndGlyphs" font-size="12.5" stroke-width="0.35">2850</tspan></text>
<text font-size="12" fill="#000" stroke="#000" stroke-width="0.1"><tspan y="265" x="577" textLength="24" letter-spacing="1.62" lengthAdjust="spacingAndGlyphs" font-size="12.5" stroke-width="0.35">2800</tspan></text>
<text font-size="12" fill="#000" stroke="#000" stroke-width="0.1"><tspan y="345" x="577" textLength="24" letter-spacing="1.62" lengthAdjust="spacingAndGlyphs" font-size="12.5" stroke-width="0.35">3150</tspan></text>
<text font-size="12" fill="#000" stroke="#000" stroke-width="0.1"><tspan y="359" x="577" textLength="24" letter-spacing="1.62" lengthAdjust="spacingAndGlyphs" font-size="12.5" stroke-width="0.35">3100</tspan></text>
<text font-size="12" fill="#000" stroke="#000" stroke-width="0.1"><tspan y="373" x="577" textLength="24" letter-spacing="1.62" lengthAdjust="spacingAndGlyphs" font-size="12.5" stroke-width="0.35">3050</tspan></text>
<text font-size="12" fill="#000" stroke="#000" stroke-width="0.1"><tspan y="387" x="577" textLength="24" letter-spacing="1.62" lengthAdjust="spacingAndGlyphs" font-size="12.5" stroke-width="0.35">3000</tspan></text>
<text font-size="12" fill="#000" stroke="#000" stroke-width="0.1"><tspan y="400" x="577" textLength="24" letter-spacing="1.62" lengthAdjust="spacingAndGlyphs" font-size="12.5" stroke-width="0.35">2950</tspan></text>
<text font-size="12" fill="#000" stroke="#000" stroke-width="0.1"><tspan y="414" x="577" textLength="24" letter-spacing="1.62" lengthAdjust="spacingAndGlyphs" font-size="12.5" stroke-width="0.35">2900</tspan></text>
<text font-size="12" fill="#000" stroke="#000" stroke-width="0.1"><tspan y="428" x="577" textLength="24" letter-spacing="1.62" lengthAdjust="spacingAndGlyphs" font-size="12.5" stroke-width="0.35">2850</tspan></text>
<text font-size="12" fill="#000" stroke="#000" stroke-width="0.1"><tspan y="442" x="577" textLength="24" letter-spacing="1.62" lengthAdjust="spacingAndGlyphs" font-size="12.5" stroke-width="0.35">2800</tspan></text>
<text font-size="12" fill="#000" stroke="#000" stroke-width="0.1"><tspan y="455" x="577" textLength="24" letter-spacing="1.62" lengthAdjust="spacingAndGlyphs" font-size="12.5" stroke-width="0.35">2750</tspan></text>
<text font-size="12" fill="#000" stroke="#000" stroke-width="0.1"><tspan y="275" x="115" textLength="12" letter-spacing="1.62" lengthAdjust="spacingAndGlyphs" font-size="12.5" stroke-width="0.35">12</tspan><tspan y="275" x="128.75" textLength="2.50" lengthAdjust="spacingAndGlyphs" font-size="12.5" stroke-width="0.35">/</tspan><tspan y="275" x="133" textLength="6" letter-spacing="1.62" lengthAdjust="spacingAndGlyphs" font-size="12.5" stroke-width="0.35">1</tspan></text>
<text font-size="12" fill="#000" stroke="#000" stroke-width="0.1"><tspan y="275" x="351" textLength="12" letter-spacing="1.62" lengthAdjust="spacingAndGlyphs" font-size="12.5" stroke-width="0.35">22</tspan><tspan y="275" x="364.75" textLength="2.50" lengthAdjust="spacingAndGlyphs" font-size="12.5" stroke-width="0.35">/</tspan><tspan y="275" x="369" textLength="6" letter-spacing="1.62" lengthAdjust="spacingAndGlyphs" font-size="12.5" stroke-width="0.35">1</tspan><tspan y="275" x="376.75" textLength="2.50" lengthAdjust="spacingAndGlyphs" font-size="12.5" stroke-width="0.35">/</tspan><tspan y="275" x="381" textLength="6" letter-spacing="1.62" lengthAdjust="spacingAndGlyphs" font-size="12.5" stroke-width="0.35">4</tspan></text>
<text font-size="12" fill="#000" stroke="#000" stroke-width="0.1"><tspan y="465" x="115" textLength="12" letter-spacing="1.62" lengthAdjust="spacingAndGlyphs" font-size="12.5" stroke-width="0.35">12</tspan><tspan y="465" x="128.75" textLength="2.50" lengthAdjust="spacingAndGlyphs" font-size="12.5" stroke-width="0.35">/</tspan><tspan y="465" x="133" textLength="6" letter-spacing="1.62" lengthAdjust="spacingAndGlyphs" font-size="12.5" stroke-width="0.35">1</tspan></text>
<text font-size="12" fill="#000" stroke="#000" stroke-width="0.1"><tspan y="465" x="351" textLength="12" letter-spacing="1.62" lengthAdjust="spacingAndGlyphs" font-size="12.5" stroke-width="0.35">22</tspan><tspan y="465" x="364.75" textLength="2.50" lengthAdjust="spacingAndGlyphs" font-size="12.5" stroke-width="0.35">/</tspan><tspan y="465" x="369" textLength="6" letter-spacing="1.62" lengthAdjust="spacingAndGlyphs" font-size="12.5" stroke-width="0.35">1</tspan><tspan y="465" x="376.75" textLength="2.50" lengthAdjust="spacingAndGlyphs" font-size="12.5" stroke-width="0.35">/</tspan><tspan y="465" x="381" textLength="6" letter-spacing="1.62" lengthAdjust="spacingAndGlyphs" font-size="12.5" stroke-width="0.35">4</tspan></text>
</g>
</svg>
</body></html>
